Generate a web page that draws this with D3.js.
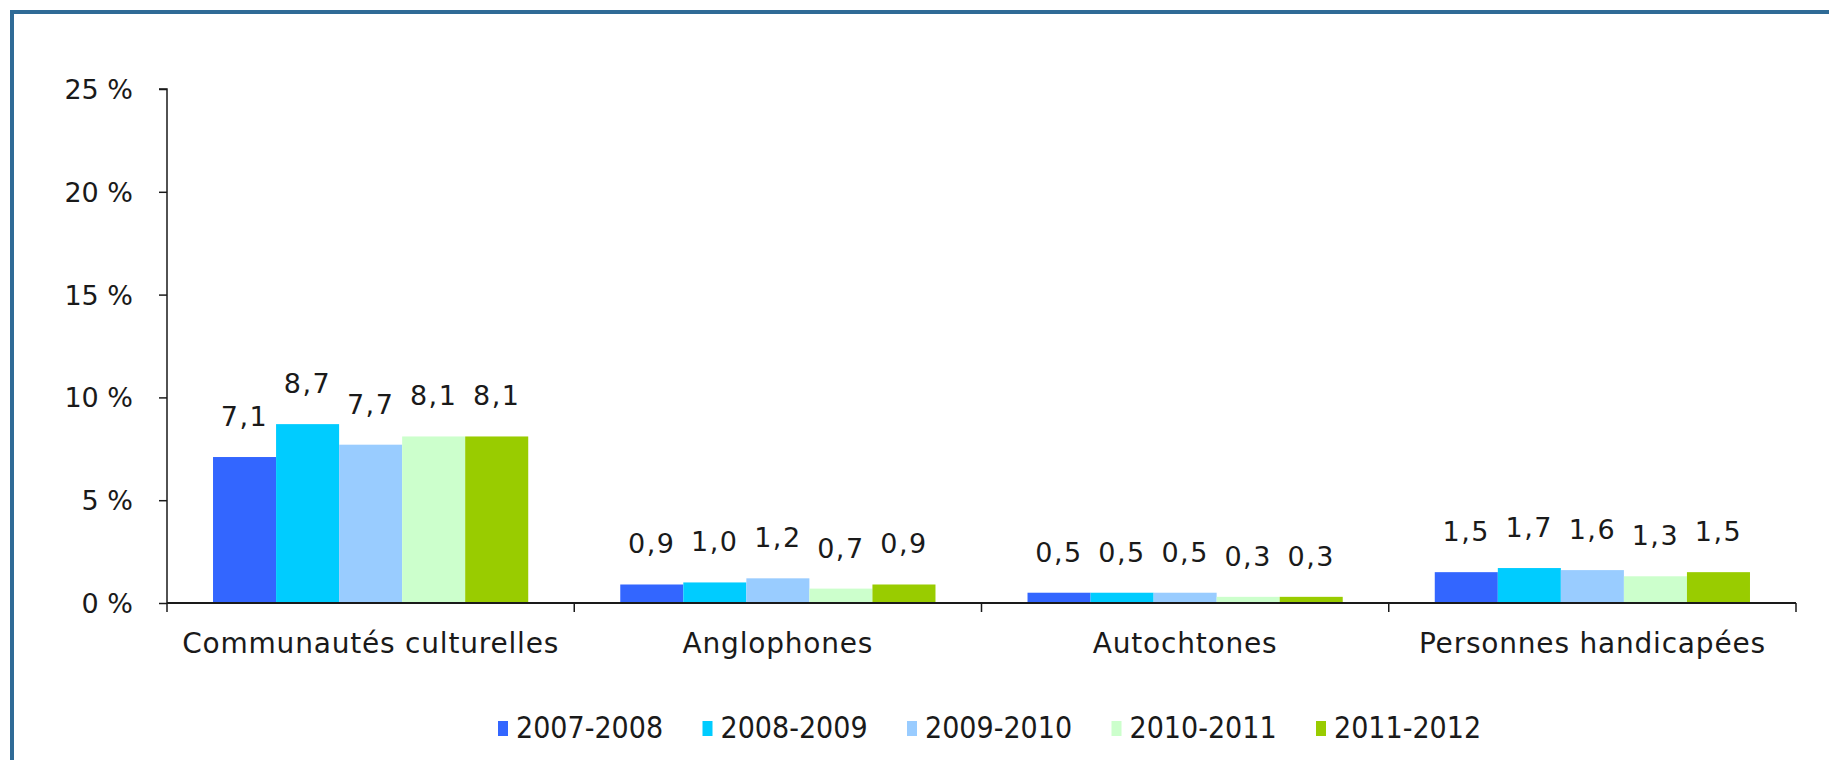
<!DOCTYPE html>
<html>
<head>
<meta charset="utf-8">
<script src="https://cdn.jsdelivr.net/npm/d3@7"></script>
<style>
  body { margin: 0; background: #fff; }
  text { font-family: "DejaVu Sans", Verdana, sans-serif; fill: #1a1a1a; }
</style>
</head>
<body>
<script>
const categories = ["Communautés culturelles", "Anglophones", "Autochtones", "Personnes handicapées"];
const years = ["2007-2008", "2008-2009", "2009-2010", "2010-2011", "2011-2012"];
const colors = ["#3366ff", "#00ccff", "#99ccff", "#ccffcc", "#99cc00"];
const v0708 = [7.1, 0.9, 0.5, 1.5];
const v0809 = [8.7, 1.0, 0.5, 1.7];
const v0910 = [7.7, 1.2, 0.5, 1.6];
const v1011 = [8.1, 0.7, 0.3, 1.3];
const v1112 = [8.1, 0.9, 0.3, 1.5];
const yTicks = [0, 5, 10, 15, 20, 25];

const series = [v0708, v0809, v0910, v1011, v1112];
const rows = categories.map((c, i) => ({
    cat: c,
    vals: years.map((y, j) => ({ year: y, value: series[j][i], color: colors[j] }))
}));

const W = 1829, H = 760;
const margin = { top: 89, right: 33, bottom: 157, left: 167 },
    width = W - margin.left - margin.right,
    height = H - margin.top - margin.bottom;

const svg = d3.select("body").append("svg")
    .attr("width", W)
    .attr("height", H);

// frame
svg.append("rect")
    .attr("x", 12).attr("y", 12)
    .attr("width", W + 20).attr("height", H + 20)
    .attr("fill", "none")
    .attr("stroke", "#2f6b96")
    .attr("stroke-width", 4);

const g = svg.append("g")
    .attr("transform", "translate(" + margin.left + "," + margin.top + ")");

const x0 = d3.scaleBand().domain(categories).range([0, width]).padding(0);
const x1 = d3.scaleBand().domain(years).range([0, x0.bandwidth()]).paddingOuter(0.73).paddingInner(0);
const y = d3.scaleLinear().domain([0, 25]).range([height, 0]);

// y axis
const yAxis = g.append("g")
    .call(d3.axisLeft(y).tickValues(yTicks).tickSize(8).tickPadding(26).tickFormat(d => d + " %"));
yAxis.selectAll("line,path").style("stroke", "#1a1a1a").style("stroke-width", 1.5);
yAxis.select(".domain").attr("d", "M-8," + y(25) + "H0V" + y(0));
yAxis.selectAll("text").style("font-size", "27px").attr("dy", "0.35em").style("font-family", "DejaVu Sans");

// bars
const grp = g.selectAll(".cat").data(rows).join("g")
    .attr("transform", d => "translate(" + x0(d.cat) + ",0)");
grp.selectAll("rect").data(d => d.vals).join("rect")
    .attr("x", d => x1(d.year))
    .attr("y", d => y(d.value))
    .attr("width", x1.bandwidth())
    .attr("height", d => y(0) - y(d.value))
    .attr("fill", d => d.color);
grp.selectAll("text.lbl").data(d => d.vals).join("text")
    .attr("class", "lbl")
    .attr("x", d => x1(d.year) + x1.bandwidth() / 2)
    .attr("y", d => y(d.value) - 31)
    .attr("text-anchor", "middle")
    .style("font-size", "27px")
    .style("letter-spacing", "1.5px")
    .text(d => d3.format(".1f")(d.value).replace(".", ","));

// x axis
const xAxis = g.append("g")
    .attr("transform", "translate(0," + height + ")")
    .call(d3.axisBottom(x0).tickSize(0).tickPadding(30));
xAxis.select(".domain").style("stroke", "#1a1a1a").style("stroke-width", 2).attr("d", "M0,0H" + width);
xAxis.selectAll("text").style("font-size", "28px").style("font-family", "DejaVu Sans").style("letter-spacing", "0.8px");
const bounds = categories.map(c => x0(c)).concat([width]);
xAxis.selectAll("line.sep").data(bounds).join("line")
    .attr("class", "sep")
    .attr("x1", d => d).attr("x2", d => d)
    .attr("y1", 0).attr("y2", 9)
    .style("stroke", "#1a1a1a").style("stroke-width", 1.5);

// legend
const legend = svg.append("g").attr("transform", "translate(498," + 738 + ")");
const li = legend.selectAll("g").data(years).join("g")
    .attr("transform", (d, i) => "translate(" + i * 204.5 + ",0)");
li.append("rect")
    .attr("x", 0).attr("y", -17)
    .attr("width", 10).attr("height", 15)
    .attr("fill", (d, i) => colors[i]);
li.append("text")
    .attr("x", 18).attr("y", 0)
    .style("font-family", "'DejaVu Sans Condensed', 'DejaVu Sans'")
    .style("font-size", "30px")
    .text(d => d);
</script>
</body>
</html>
